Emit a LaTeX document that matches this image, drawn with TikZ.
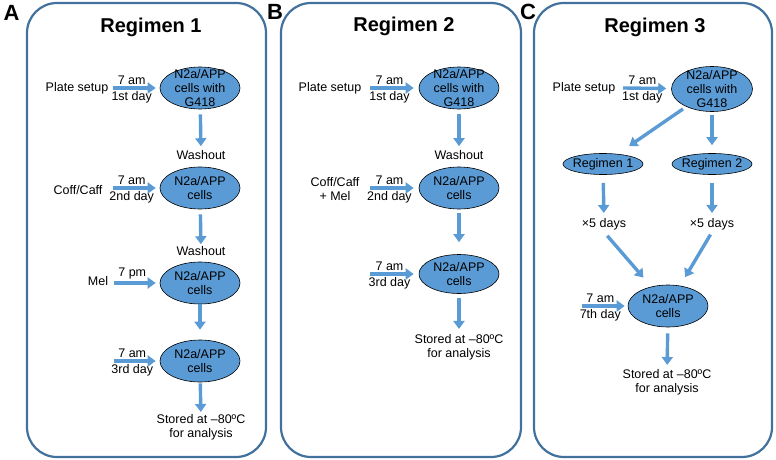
\documentclass[tikz,border=0pt]{standalone}
\usepackage{fontspec}
\setmainfont{Liberation Sans}
\usetikzlibrary{shapes.geometric,arrows.meta}
\definecolor{cellblue}{HTML}{5B9BD5}
\definecolor{flowblue}{HTML}{5B9BD5}
\definecolor{framecol}{HTML}{41719C}
\tikzset{
  panelframe/.style = {draw=framecol, line width=2.2pt, rounded corners=30pt},
  paneltag/.style = {font=\fontsize{22}{26}\selectfont\bfseries, inner sep=0pt},
  paneltitle/.style = {font=\fontsize{20}{24}\selectfont\bfseries, inner sep=0pt},
  cell/.style = {ellipse, draw=black, line width=0.6pt, fill=cellblue,
                 minimum width=80pt, minimum height=42pt, inner sep=0pt},
  smallcell/.style = {cell, minimum height=21pt},
  celltext/.style = {align=center, font=\fontsize{12.5}{14.2}\selectfont, inner sep=0pt},
  note/.style = {align=center, font=\fontsize{12.5}{14}\selectfont, inner sep=2pt},
  flow/.style = {draw=flowblue, line width=3.4pt, -{Triangle[length=8pt,width=11pt]}}
}
\begin{document}
\begin{tikzpicture}[x=1pt, y=-1pt]
  \useasboundingbox (0,0) rectangle (776,460);
  % panels
  \draw[panelframe] (27,3) rectangle (266,457);
  \draw[panelframe] (281,3) rectangle (521,457);
  \draw[panelframe] (534,3) rectangle (772,457);
  \node[paneltag] (tagA) at (11.5,13) {A};
  \node[paneltag] (tagB) at (275,12) {B};
  \node[paneltag] (tagC) at (528,12) {C};
  \node[paneltitle] (titA) at (151,27) {Regimen 1};
  \node[paneltitle] (titB) at (404,26) {Regimen 2};
  \node[paneltitle] (titC) at (655,27) {Regimen 3};

  % Regimen 1
  \node[cell] (a1) at (200,88) {};
  \node[celltext] (a1t) at (a1) {N2a/APP\\cells with\\G418};
  \node[cell] (a2) at (200,188) {};
  \node[celltext] (a2t) at (a2) {N2a/APP\\cells};
  \node[cell] (a3) at (200,283) {};
  \node[celltext] (a3t) at (a3) {N2a/APP\\cells};
  \node[cell] (a4) at (200,361) {};
  \node[celltext] (a4t) at (a4) {N2a/APP\\cells};
  \node[note] (psA) at (77,88) {Plate setup};
  \node[note] (ccA) at (78,190) {Coff/Caff};
  \node[note] (melA) at (98,281) {Mel};
  \node[note] (wA1) at (201,155) {Washout};
  \node[note] (wA2) at (201,251) {Washout};
  \node[note] (stA) at (201,427) {Stored at –80ºC\\for analysis};
  \coordinate (sA1) at (113,88);
  \coordinate (sA2) at (113,188);
  \coordinate (sA3) at (114,283);
  \coordinate (sA4) at (114,361);
  \draw[flow, shorten >=4pt] (sA1) -- (a1) node[note, pos=0.4, above] {7 am} node[note, pos=0.4, below] {1st day};
  \draw[flow, shorten >=4pt] (sA2) -- (a2) node[note, pos=0.4, above] {7 am} node[note, pos=0.4, below] {2nd day};
  \draw[flow, shorten >=4pt] (sA3) -- (a3) node[note, pos=0.4, above] {7 pm};
  \draw[flow, shorten >=4pt] (sA4) -- (a4) node[note, pos=0.4, above] {7 am} node[note, pos=0.4, below] {3rd day};
  \draw[flow, shorten <=5pt, shorten >=2pt] (a1) -- (wA1);
  \draw[flow, shorten <=5pt] (a2) -- (wA2);
  \draw[flow, shorten >=10pt] (a3) -- (a4);
  \draw[flow, shorten <=1pt] (a4) -- (stA);

  % Regimen 2
  \node[cell] (b1) at (459,88) {};
  \node[celltext] (b1t) at (b1) {N2a/APP\\cells with\\G418};
  \node[cell] (b2) at (459,188) {};
  \node[celltext] (b2t) at (b2) {N2a/APP\\cells};
  \node[cell, minimum height=39pt] (b3) at (459,274) {};
  \node[celltext] (b3t) at (b3) {N2a/APP\\cells};
  \node[note] (psB) at (330,88) {Plate setup};
  \node[note] (ccB) at (335,189) {Coff/Caff\\+ Mel};
  \node[note] (wB1) at (459,155) {Washout};
  \node[note] (stB) at (459,347) {Stored at –80ºC\\for analysis};
  \coordinate (sB1) at (370,88);
  \coordinate (sB2) at (370,188);
  \coordinate (sB3) at (370,274);
  \draw[flow, shorten >=5pt] (sB1) -- (b1) node[note, pos=0.4, above] {7 am} node[note, pos=0.4, below] {1st day};
  \draw[flow, shorten >=5pt] (sB2) -- (b2) node[note, pos=0.4, above] {7 am} node[note, pos=0.4, below] {2nd day};
  \draw[flow, shorten >=5pt] (sB3) -- (b3) node[note, pos=0.4, above] {7 am} node[note, pos=0.4, below] {3rd day};
  \draw[flow, shorten <=5pt, shorten >=2pt] (b1) -- (wB1);
  \draw[flow, shorten <=4pt, shorten >=12pt] (b2) -- (b3);
  \draw[flow, shorten <=4pt, shorten >=3pt] (b3) -- (stB);

  % Regimen 3
  \node[cell, minimum width=81pt, minimum height=45pt] (c1) at (712,89) {};
  \node[celltext] (c1t) at (c1) {N2a/APP\\cells with\\G418};
  \node[smallcell] (r1) at (603,164) {};
  \node[celltext] (r1t) at (r1) {Regimen 1};
  \node[smallcell] (r2) at (712,164) {};
  \node[celltext] (r2t) at (r2) {Regimen 2};
  \node[cell] (c2) at (668,306) {};
  \node[celltext] (c2t) at (c2) {N2a/APP\\cells};
  \node[note] (psC) at (584,88) {Plate setup};
  \node[note] (xC1) at (604,224) {×5 days};
  \node[note] (xC2) at (712,224) {×5 days};
  \node[note] (stC) at (667,382) {Stored at –80ºC\\for analysis};
  \coordinate (sC1) at (623,88);
  \coordinate (sC2) at (582,306);
  \draw[flow, shorten >=5pt] (sC1) -- (c1) node[note, pos=0.4, above] {7 am} node[note, pos=0.4, below] {1st day};
  \draw[flow, shorten >=3pt] (sC2) -- (c2) node[note, pos=0.4, above] {7 am} node[note, pos=0.4, below] {7th day};
  \draw[flow, shorten <=4pt, shorten >=14pt] (c1) -- (r1);
  \draw[flow, shorten <=3pt, shorten >=8pt] (c1) -- (r2);
  \draw[flow, shorten <=8pt, shorten >=3pt] (r1) -- (xC1);
  \draw[flow, shorten <=8pt, shorten >=3pt] (r2) -- (xC2);
  \draw[flow, shorten <=5pt, shorten >=12pt] (xC1.south) -- (c2);
  \draw[flow, shorten <=3pt, shorten >=10pt] (xC2.south) -- (c2);
  \draw[flow, shorten <=6pt, shorten >=2pt] (c2) -- (stC);
\end{tikzpicture}
\end{document}
